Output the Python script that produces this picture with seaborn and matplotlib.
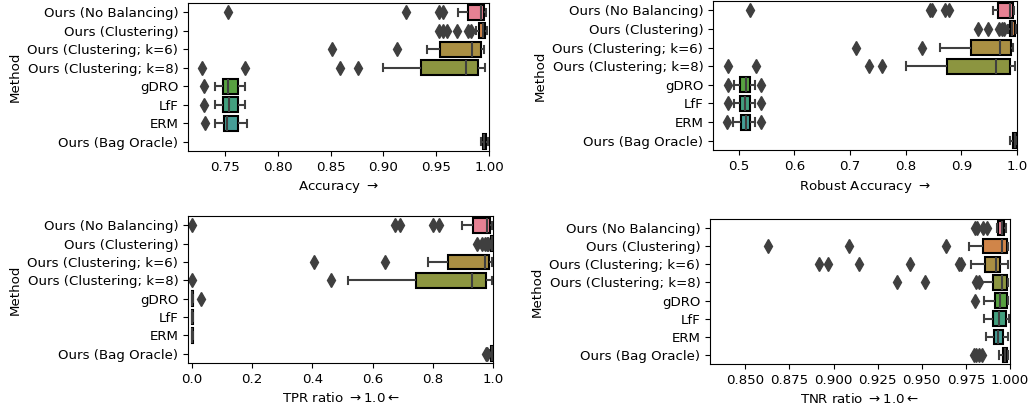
import matplotlib
matplotlib.use("Agg")
import matplotlib.pyplot as plt
import pandas as pd
import seaborn as sns

methods = [
    "Ours (No Balancing)",
    "Ours (Clustering)",
    "Ours (Clustering; k=6)",
    "Ours (Clustering; k=8)",
    "gDRO",
    "LfF",
    "ERM",
    "Ours (Bag Oracle)",
]

# per-run scores, one list per method (same order as `methods`)
accuracy = [
    [0.753, 0.921, 0.953, 0.956, 0.971, 0.980, 0.984, 0.987, 0.989, 0.991, 0.992,
     0.993, 0.993, 0.994, 0.994, 0.995, 0.995, 0.996, 0.996, 0.997, 0.997],
    [0.953, 0.9565, 0.960, 0.970, 0.980, 0.9825, 0.988, 0.991, 0.992, 0.992,
     0.993, 0.993, 0.993, 0.994, 0.994, 0.994, 0.995, 0.995, 0.995, 0.995,
     0.996, 0.996, 0.996, 0.997, 0.997, 0.997, 0.998, 0.998, 0.998],
    [0.851, 0.913, 0.941, 0.946, 0.950, 0.954, 0.962, 0.970, 0.976, 0.981, 0.984,
     0.986, 0.988, 0.989, 0.990, 0.992, 0.992, 0.993, 0.993, 0.994, 0.995],
    [0.728, 0.769, 0.859, 0.876, 0.900, 0.936, 0.948, 0.958, 0.966, 0.973, 0.978,
     0.981, 0.984, 0.986, 0.988, 0.990, 0.991, 0.993, 0.994, 0.995, 0.996],
    [0.730, 0.741, 0.743, 0.745, 0.747, 0.748, 0.749, 0.750, 0.751, 0.752, 0.753,
     0.755, 0.757, 0.759, 0.761, 0.762, 0.763, 0.765, 0.766, 0.768, 0.769],
    [0.730, 0.741, 0.743, 0.745, 0.747, 0.748, 0.749, 0.750, 0.752, 0.753, 0.754,
     0.756, 0.758, 0.759, 0.761, 0.762, 0.763, 0.765, 0.766, 0.768, 0.769],
    [0.731, 0.741, 0.743, 0.746, 0.748, 0.749, 0.750, 0.750, 0.751, 0.751, 0.752,
     0.754, 0.756, 0.758, 0.760, 0.762, 0.764, 0.766, 0.768, 0.770, 0.771],
    [0.992, 0.993, 0.993, 0.993, 0.994, 0.994, 0.994, 0.994, 0.995, 0.995, 0.995,
     0.995, 0.996, 0.996, 0.996, 0.997, 0.997, 0.997, 0.998, 0.998, 0.999],
]

robust_accuracy = [
    [0.521, 0.843, 0.847, 0.871, 0.877, 0.956, 0.961, 0.965, 0.970, 0.974,
     0.977, 0.980, 0.983, 0.985, 0.987, 0.988, 0.989, 0.989, 0.990, 0.990,
     0.991, 0.992, 0.992, 0.993, 0.993, 0.994, 0.994, 0.995, 0.995],
    [0.930, 0.948, 0.968, 0.973, 0.977, 0.983, 0.985, 0.987, 0.988, 0.988,
     0.989, 0.989, 0.990, 0.990, 0.991, 0.992, 0.993, 0.993, 0.994, 0.994,
     0.995, 0.996, 0.996, 0.997, 0.997, 0.998, 0.998, 0.999, 0.999],
    [0.711, 0.830, 0.862, 0.880, 0.900, 0.917, 0.930, 0.942, 0.952, 0.962, 0.970,
     0.976, 0.981, 0.984, 0.987, 0.990, 0.990, 0.991, 0.992, 0.992, 0.993],
    [0.481, 0.532, 0.734, 0.757, 0.800, 0.875, 0.900, 0.920, 0.938, 0.952, 0.962,
     0.968, 0.974, 0.979, 0.983, 0.987, 0.989, 0.991, 0.993, 0.995, 0.996],
    [0.481, 0.491, 0.495, 0.498, 0.501, 0.503, 0.505, 0.507, 0.509, 0.511, 0.513,
     0.514, 0.515, 0.517, 0.519, 0.521, 0.523, 0.525, 0.527, 0.529, 0.541],
    [0.481, 0.491, 0.494, 0.497, 0.500, 0.503, 0.505, 0.506, 0.508, 0.510, 0.511,
     0.513, 0.515, 0.517, 0.519, 0.521, 0.523, 0.525, 0.527, 0.529, 0.541],
    [0.480, 0.490, 0.494, 0.497, 0.501, 0.504, 0.506, 0.508, 0.510, 0.512, 0.514,
     0.515, 0.516, 0.517, 0.518, 0.520, 0.522, 0.524, 0.527, 0.530, 0.540],
    [0.988, 0.989, 0.990, 0.991, 0.992, 0.993, 0.994, 0.994, 0.995, 0.995, 0.996,
     0.996, 0.997, 0.997, 0.997, 0.998, 0.998, 0.998, 0.999, 0.999, 1.000],
]

tpr_ratio = [
    [0.000, 0.673, 0.690, 0.801, 0.822, 0.898, 0.915, 0.934, 0.945, 0.955,
     0.962, 0.968, 0.973, 0.977, 0.980, 0.982, 0.983, 0.985, 0.986, 0.987,
     0.988, 0.989, 0.990, 0.992, 0.993, 0.995, 0.996, 0.997, 0.998],
    [0.947, 0.965, 0.975, 0.980, 0.985, 0.988, 0.991, 0.993, 0.994, 0.995,
     0.996, 0.996, 0.997, 0.997, 0.998, 0.998, 0.999, 0.999, 0.999, 1.000,
     1.000, 1.000, 1.000, 1.000, 1.000, 1.000, 1.000, 1.000, 1.000],
    [0.404, 0.640, 0.785, 0.810, 0.832, 0.850, 0.880, 0.905, 0.930, 0.955, 0.972,
     0.976, 0.979, 0.982, 0.985, 0.987, 0.990, 0.992, 0.995, 0.997, 0.998],
    [0.000, 0.463, 0.518, 0.600, 0.690, 0.745, 0.800, 0.850, 0.885, 0.910, 0.931,
     0.942, 0.952, 0.962, 0.970, 0.978, 0.984, 0.989, 0.993, 0.996, 0.998],
    [0.000, 0.000, 0.000, 0.000, 0.000, 0.000, 0.000, 0.000, 0.000, 0.000, 0.000,
     0.001, 0.001, 0.001, 0.002, 0.002, 0.002, 0.003, 0.003, 0.004, 0.030],
    [0.000, 0.000, 0.000, 0.000, 0.000, 0.000, 0.000, 0.000, 0.000, 0.000, 0.000,
     0.000, 0.001, 0.001, 0.001, 0.002, 0.002, 0.002, 0.003, 0.003, 0.004],
    [0.000, 0.000, 0.000, 0.000, 0.000, 0.000, 0.000, 0.000, 0.000, 0.000, 0.000,
     0.000, 0.000, 0.001, 0.001, 0.002, 0.002, 0.003, 0.003, 0.004, 0.004],
    [0.976, 0.980, 0.986, 0.988, 0.990, 0.992, 0.994, 0.995, 0.996, 0.997, 0.998,
     0.998, 0.999, 0.999, 1.000, 1.000, 1.000, 1.000, 1.000, 1.000, 1.000],
]

tnr_ratio = [
    [0.9800, 0.9815, 0.9845, 0.9870, 0.9925, 0.9934, 0.9940, 0.9945, 0.9950,
     0.9954, 0.9957, 0.9959, 0.9961, 0.9963, 0.9965, 0.9968, 0.9970, 0.9973,
     0.9976, 0.9978, 0.9980],
    [0.8628, 0.9089, 0.9636, 0.9768, 0.9810, 0.9849, 0.9880, 0.9905, 0.9925,
     0.9943, 0.9957, 0.9963, 0.9968, 0.9972, 0.9977, 0.9981, 0.9983, 0.9985,
     0.9987, 0.9989, 0.9990],
    [0.8915, 0.8968, 0.9147, 0.9434, 0.9710, 0.9722, 0.9780, 0.9858, 0.9870,
     0.9880, 0.9890, 0.9900, 0.9908, 0.9914, 0.9920, 0.9925, 0.9929, 0.9933,
     0.9936, 0.9939, 0.9941, 0.9943, 0.9950, 0.9958, 0.9965, 0.9972, 0.9978,
     0.9984, 0.9990],
    [0.9358, 0.9519, 0.9810, 0.9825, 0.9835, 0.9906, 0.9920, 0.9932, 0.9940,
     0.9947, 0.9953, 0.9958, 0.9963, 0.9968, 0.9975, 0.9981, 0.9983, 0.9985,
     0.9987, 0.9989, 0.9990],
    [0.9800, 0.9852, 0.9870, 0.9885, 0.9900, 0.9915, 0.9922, 0.9928, 0.9933,
     0.9938, 0.9943, 0.9950, 0.9957, 0.9964, 0.9972, 0.9981, 0.9983, 0.9985,
     0.9987, 0.9989, 0.9991],
    [0.9853, 0.9865, 0.9878, 0.9889, 0.9898, 0.9906, 0.9914, 0.9922, 0.9929,
     0.9935, 0.9940, 0.9946, 0.9953, 0.9960, 0.9968, 0.9977, 0.9980, 0.9984,
     0.9988, 0.9992, 0.9995],
    [0.9865, 0.9878, 0.9890, 0.9898, 0.9905, 0.9910, 0.9915, 0.9920, 0.9925,
     0.9930, 0.9934, 0.9938, 0.9942, 0.9947, 0.9952, 0.9958, 0.9964, 0.9970,
     0.9978, 0.9985, 0.9990],
    [0.9795, 0.9810, 0.9825, 0.9840, 0.9936, 0.9958, 0.9961, 0.9964, 0.9966,
     0.9968, 0.9970, 0.9972, 0.9974, 0.9976, 0.9978, 0.9981, 0.9983, 0.9985,
     0.9987, 0.9989, 0.9990],
]

plt.rcParams["font.size"] = 9.6

palette = sns.color_palette("husl", 12)[: len(methods)]


def to_long(values):
    rows = [(m, v) for m, vals in zip(methods, values) for v in vals]
    return pd.DataFrame(rows, columns=["Method", "value"])


def box(ax, values, xlabel, xlim):
    sns.boxplot(
        data=to_long(values),
        x="value",
        y="Method",
        hue="Method",
        order=methods,
        hue_order=methods,
        palette=palette,
        legend=False,
        whis=1.0,
        linecolor="#3f3f3f",
        linewidth=1.5,
        ax=ax,
        boxprops={"edgecolor": "black"},
        flierprops={
            "marker": "d",
            "markerfacecolor": "#3f3f3f",
            "markeredgecolor": "#3f3f3f",
            "markersize": 7,
        },
    )
    ax.set_xlim(xlim)
    ax.set_xlabel(xlabel)
    ax.set_ylabel("Method")


W, H = 1030, 409
fig = plt.figure(figsize=(W / 100, H / 100), dpi=100)
ax1 = fig.add_axes([188 / W, (H - 151) / H, 301 / W, 148 / H])
ax2 = fig.add_axes([713 / W, (H - 150) / H, 304 / W, 149 / H])
ax3 = fig.add_axes([188 / W, (H - 363) / H, 305 / W, 147 / H])
ax4 = fig.add_axes([710 / W, (H - 364) / H, 300 / W, 145 / H])

box(ax1, accuracy, "Accuracy $\\rightarrow$", (0.715, 1.0))
box(ax2, robust_accuracy, "Robust Accuracy $\\rightarrow$", (0.454, 1.0))
box(ax3, tpr_ratio, "TPR ratio $\\rightarrow 1.0 \\leftarrow$", (-0.013, 1.0))
box(ax4, tnr_ratio, "TNR ratio $\\rightarrow 1.0 \\leftarrow$", (0.83, 1.0))

fig.savefig("out.png", dpi=100)
